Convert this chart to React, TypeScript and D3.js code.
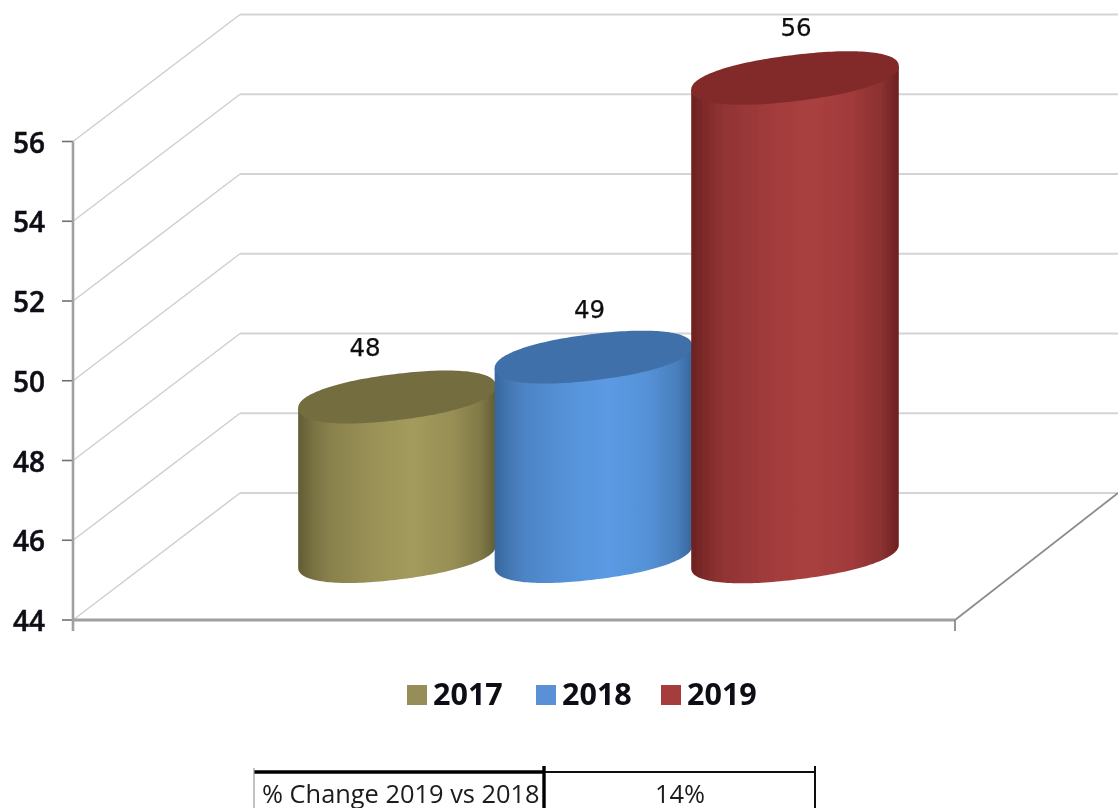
import React from "react";
import * as d3 from "d3";

const categories = ["2017", "2018", "2019"];
const values = [48, 49, 56];
const yTicks = [44, 46, 48, 50, 52, 54, 56];
const tableLabel = "% Change 2019 vs 2018";
const tableValue = "14%";
const edgeColors = ["#625c35", "#38669b", "#6c2121"];
const midColors = ["#a39a5c", "#5b9ae3", "#aa4040"];
const topColors = ["#736d40", "#3f70a9", "#822b2b"];
const swatchColors = ["#978d58", "#5a90d6", "#a53c3c"];

const W = 1118;
const H = 808;
const FONT = "'Open Sans', sans-serif";
const y = d3.scaleLinear().domain([44, 56]).range([620, 141.5]);
const x = d3.scaleBand<string>().domain(categories).range([298, 892]).paddingInner(0);
const DEPTH_X = 167;
const DEPTH_Y = 127;
const AXIS_X = 73;
const FLOOR_RIGHT = 955;
const TILT = (-7 * Math.PI) / 180;
const RY = 23;
const EXP = 2 / 2.2;
const BASE_DROP = 63.5;
const LABEL_DX = [-32, -4, 1];
const LABEL_DY = [-40, -38, -41];

const outline = d3
  .line<[number, number]>()
  .x((d) => d[0])
  .y((d) => d[1]);

// Rotated super-ellipse point for parameter t.
function rim(cx: number, cy: number, rx: number, t: number): [number, number] {
  const c = Math.cos(t);
  const s = Math.sin(t);
  const u = rx * Math.sign(c) * Math.abs(c) ** EXP;
  const v = RY * Math.sign(s) * Math.abs(s) ** EXP;
  return [cx + u * Math.cos(TILT) - v * Math.sin(TILT), cy + u * Math.sin(TILT) + v * Math.cos(TILT)];
}

function cylinder(cx: number, rx: number, topY: number, baseY: number) {
  const ts = d3.range(0, 361, 2).map((a) => (a * Math.PI) / 180);
  const topPts = ts.map((t) => rim(cx, topY, rx, t));
  const basePts = ts.map((t) => rim(cx, baseY, rx, t));
  const leftI = d3.minIndex(topPts, (p) => p[0]);
  const rightI = d3.maxIndex(topPts, (p) => p[0]);
  // Lower half of the base rim runs from the right extreme to the left extreme.
  const lower = ts
    .map((_, i) => i)
    .filter((i) => (rightI <= leftI ? i >= rightI && i <= leftI : i >= rightI || i <= leftI))
    .map((i) => basePts[i]);
  const body: [number, number][] = [topPts[rightI], ...lower, topPts[leftI]];
  return { body: outline(body) + "Z", top: outline(topPts) + "Z" };
}

export default function App() {
  const band = x.bandwidth();
  const base = y(44) - BASE_DROP;
  return (
    <svg
      width={W}
      height={H}
      viewBox={`0 0 ${W} ${H}`}
      style={{ position: "absolute", left: 0, top: 0, background: "#fff", display: "block" }}
    >
      <defs>
        <filter id="soft" x="-5%" y="-5%" width="110%" height="110%">
          <feGaussianBlur stdDeviation="0.7" />
        </filter>
        {categories.map((c, i) => {
          const mix = d3.interpolateRgb(edgeColors[i], midColors[i]);
          return (
            <linearGradient key={c} id={`g${i}`} x1="0" x2="1" y1="0" y2="0">
              <stop offset="0" stopColor={edgeColors[i]} />
              <stop offset="0.07" stopColor={mix(0.32)} />
              <stop offset="0.16" stopColor={mix(0.6)} />
              <stop offset="0.4" stopColor={mix(0.88)} />
              <stop offset="0.58" stopColor={midColors[i]} />
              <stop offset="0.78" stopColor={mix(0.82)} />
              <stop offset="0.92" stopColor={mix(0.48)} />
              <stop offset="1" stopColor={edgeColors[i]} />
            </linearGradient>
          );
        })}
      </defs>
      <g filter="url(#soft)">
        {yTicks.map((t) => (
          <g key={t}>
            <path
              d={`M${AXIS_X},${y(t)} L${AXIS_X + DEPTH_X},${y(t) - DEPTH_Y}`}
              fill="none"
              stroke="#cfcfcf"
              strokeWidth={1.5}
            />
            <line
              x1={AXIS_X + DEPTH_X}
              x2={W}
              y1={y(t) - DEPTH_Y}
              y2={y(t) - DEPTH_Y}
              stroke="#d4d4d4"
              strokeWidth={2}
            />
            <line x1={62} x2={AXIS_X} y1={y(t)} y2={y(t)} stroke="#707070" strokeWidth={1.6} />
            <text
              x={45}
              y={y(t) + 11}
              textAnchor="end"
              fontFamily={FONT}
              fontWeight={600}
              fontSize={28}
              stroke="#0c0c16"
              strokeWidth={0.5}
              fill="#0c0c16"
            >
              {t}
            </text>
          </g>
        ))}
        <line x1={AXIS_X} x2={AXIS_X} y1={y(56)} y2={631} stroke="#a0a0a0" strokeWidth={2.6} />
        <line x1={AXIS_X} x2={FLOOR_RIGHT} y1={y(44)} y2={y(44)} stroke="#a0a0a0" strokeWidth={3} />
        <line x1={FLOOR_RIGHT} x2={FLOOR_RIGHT} y1={y(44)} y2={631} stroke="#8c8c8c" strokeWidth={1.8} />
        <line
          x1={FLOOR_RIGHT}
          y1={y(44)}
          x2={FLOOR_RIGHT + DEPTH_X - 4}
          y2={y(44) - DEPTH_Y}
          stroke="#8c8c8c"
          strokeWidth={1.8}
        />

        {categories.map((c, i) => {
          const extra = i === categories.length - 1 ? 10 : 0;
          const w = band + extra;
          const left = x(c)! - (i === 0 ? 0 : i * 1.5);
          const cx = left + w / 2;
          const rx = w / 2 + 0.5;
          const topY = y(values[i]) - BASE_DROP;
          const cyl = cylinder(cx, rx, topY, base);
          return (
            <g key={c}>
              <path d={cyl.body} fill={`url(#g${i})`} />
              <path d={cyl.top} fill={topColors[i]} />
              <text
                x={cx + LABEL_DX[i]}
                y={topY + LABEL_DY[i] - 1}
                textAnchor="middle"
                fontFamily="'DejaVu Sans', sans-serif"
                fontSize={24.5}
                stroke="#111"
                strokeWidth={0.25}
                fill="#111"
              >
                {values[i]}
              </text>
            </g>
          );
        })}

        {categories.map((c, i) => {
          const lx = [407, 536, 661][i];
          return (
            <g key={c}>
              <rect x={lx} y={685} width={20} height={20} fill={swatchColors[i]} />
              <text x={lx + 26} y={705} fontFamily={FONT} fontWeight={700} fontSize={30.5} fill="#0c0c16">
                {c}
              </text>
            </g>
          );
        })}

        <line x1={254} x2={544} y1={772} y2={772} stroke="#000" strokeWidth={3.4} />
        <line x1={544} x2={816} y1={772} y2={772} stroke="#111" strokeWidth={2} />
        <line x1={254} x2={254} y1={768} y2={H} stroke="#999" strokeWidth={1.2} />
        <line x1={544} x2={544} y1={766} y2={H} stroke="#000" strokeWidth={3.4} />
        <line x1={815} x2={815} y1={766} y2={H} stroke="#111" strokeWidth={2} />
        <text x={262} y={803} fontFamily={FONT} fontSize={25.4} fill="#1a1a1a">
          {tableLabel}
        </text>
        <text x={680} y={803} textAnchor="middle" fontFamily={FONT} fontSize={25.4} fill="#1a1a1a">
          {tableValue}
        </text>
      </g>
    </svg>
  );
}
